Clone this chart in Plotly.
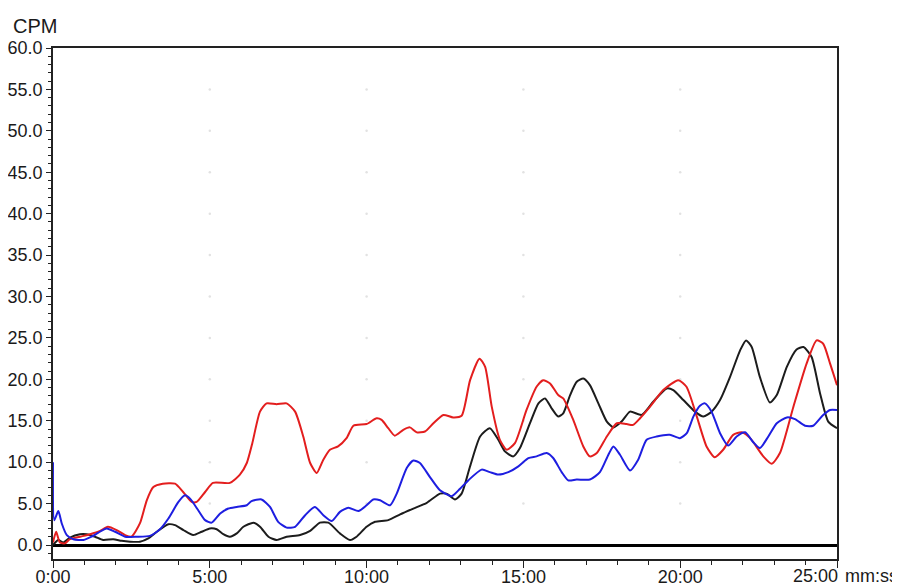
import plotly.graph_objects as go

# ---- data (time in minutes, values in CPM) ----
red_t = [0, 0.1, 0.22, 0.38, 0.54, 0.86, 1.18, 1.5, 1.75, 2.03, 2.3, 2.5, 2.77, 2.99, 3.2, 3.5, 3.89, 4.15, 4.42, 4.58,
         4.85, 5.1, 5.64, 5.96, 6.18, 6.35, 6.6, 6.81, 7.13, 7.45, 7.72, 7.98, 8.2, 8.41, 8.62, 8.83, 9.09, 9.36, 9.58, 10.0,
         10.32, 10.48, 10.69, 10.9, 11.17, 11.38, 11.6, 11.86, 12.13, 12.45, 12.76, 13.03, 13.3, 13.6, 13.78, 13.99, 14.25, 14.47, 14.73, 15.1,
         15.42, 15.63, 15.85, 16.11, 16.27, 16.59, 16.91, 17.12, 17.34, 17.66, 17.98, 18.29, 18.5, 18.72, 19.04, 19.46, 19.94, 20.2, 20.53, 20.84,
         21.1, 21.37, 21.69, 21.96, 22.23, 22.65, 22.92, 23.18, 23.61, 24.03, 24.35, 24.56, 24.78, 25.0]
red_v = [0.3, 1.6, 0.3, 0.2, 0.7, 1.0, 1.3, 1.7, 2.2, 1.8, 1.2, 1.0, 2.6, 5.4, 7.0, 7.4, 7.4, 6.4, 5.2, 5.2,
         6.4, 7.5, 7.5, 8.5, 9.9, 12.2, 16.1, 17.1, 17.0, 17.1, 16.1, 13.1, 9.9, 8.7, 10.3, 11.5, 11.9, 12.9, 14.4, 14.6,
         15.3, 15.1, 14.1, 13.2, 13.9, 14.2, 13.6, 13.7, 14.7, 15.7, 15.4, 15.6, 19.9, 22.5, 21.5, 16.7, 12.7, 11.5, 12.3, 16.3,
         19.1, 19.9, 19.5, 18.1, 17.7, 15.1, 11.9, 10.7, 11.1, 13.1, 14.7, 14.6, 14.5, 15.3, 16.7, 18.7, 19.9, 19.1, 15.5, 11.9,
         10.6, 11.5, 13.3, 13.6, 12.9, 10.7, 9.8, 11.1, 16.7, 21.9, 24.7, 24.3, 21.9, 19.3]

black_t = [0, 0.17, 0.33, 0.54, 0.86, 1.07, 1.34, 1.6, 1.92, 2.19, 2.46, 2.77, 3.04, 3.31, 3.68, 3.89, 4.16, 4.47, 4.74, 5.0,
           5.22, 5.43, 5.64, 5.86, 6.07, 6.39, 6.6, 6.87, 7.13, 7.45, 7.88, 8.2, 8.51, 8.78, 9.15, 9.47, 9.68, 10.0, 10.27, 10.69,
           11.07, 11.49, 11.92, 12.34, 12.55, 12.82, 13.03, 13.3, 13.62, 13.93, 14.2, 14.41, 14.68, 14.89, 15.21, 15.48, 15.69, 15.9, 16.11, 16.27,
           16.49, 16.7, 16.91, 17.12, 17.39, 17.66, 17.87, 18.13, 18.4, 18.77, 19.14, 19.57, 19.78, 20.1, 20.47, 20.74, 21.0, 21.27, 21.59, 21.91,
           22.1, 22.28, 22.54, 22.86, 23.08, 23.4, 23.71, 23.93, 24.19, 24.46, 24.72, 25.0]
black_v = [0.0, 0.6, 0.3, 0.9, 1.3, 1.3, 1.0, 0.6, 0.7, 0.5, 0.4, 0.4, 0.8, 1.6, 2.5, 2.4, 1.8, 1.2, 1.6, 2.0,
           1.9, 1.3, 1.0, 1.4, 2.2, 2.7, 2.2, 1.0, 0.6, 1.0, 1.2, 1.7, 2.7, 2.7, 1.4, 0.6, 1.0, 2.2, 2.8, 3.0,
           3.7, 4.4, 5.1, 6.2, 6.2, 5.5, 6.2, 9.5, 13.1, 14.1, 12.7, 11.3, 10.7, 11.7, 14.7, 17.1, 17.7, 16.5, 15.5, 15.9,
           18.1, 19.7, 20.1, 19.3, 17.1, 14.9, 14.2, 14.9, 16.1, 15.7, 17.3, 18.9, 18.7, 17.5, 16.1, 15.5, 16.1, 17.5, 20.3, 23.5,
           24.7, 23.9, 20.3, 17.2, 18.1, 21.5, 23.6, 23.9, 22.7, 18.3, 14.9, 14.1]

blue_t = [0, 0.04, 0.17, 0.28, 0.44, 0.65, 0.97, 1.23, 1.45, 1.71, 1.98, 2.3, 2.67, 3.09, 3.41, 3.68, 4.0, 4.21, 4.37, 4.63,
          4.85, 5.06, 5.33, 5.59, 5.86, 6.18, 6.33, 6.65, 6.92, 7.18, 7.45, 7.72, 8.04, 8.35, 8.62, 8.89, 9.15, 9.42, 9.74, 10.0,
          10.21, 10.43, 10.75, 10.96, 11.28, 11.49, 11.7, 12.02, 12.34, 12.71, 12.98, 13.24, 13.67, 13.93, 14.2, 14.52, 14.84, 15.16, 15.42, 15.74,
          15.95, 16.22, 16.43, 16.7, 17.12, 17.44, 17.71, 17.87, 18.08, 18.4, 18.66, 18.93, 19.25, 19.67, 19.99, 20.21, 20.42, 20.63, 20.79, 21.0,
          21.27, 21.53, 21.8, 22.07, 22.33, 22.54, 22.81, 23.08, 23.4, 23.66, 23.98, 24.24, 24.56, 24.78, 25.0]
blue_v = [10.0, 3.0, 4.1, 2.6, 1.2, 0.7, 0.6, 1.0, 1.5, 2.0, 1.6, 1.0, 1.0, 1.1, 1.9, 3.2, 5.2, 6.0, 5.6, 4.2,
          3.0, 2.7, 3.8, 4.4, 4.6, 4.8, 5.3, 5.5, 4.6, 2.8, 2.1, 2.2, 3.6, 4.6, 3.6, 2.9, 4.0, 4.5, 4.1, 4.8,
          5.5, 5.4, 4.8, 6.2, 9.3, 10.2, 9.9, 8.2, 6.6, 5.9, 6.8, 7.8, 9.1, 8.8, 8.5, 8.8, 9.5, 10.5, 10.7, 11.1,
          10.5, 8.8, 7.8, 7.9, 7.9, 8.8, 10.9, 11.9, 10.9, 9.0, 10.3, 12.7, 13.1, 13.3, 12.9, 13.5, 15.5, 16.8, 17.1, 16.1,
          13.5, 12.0, 13.1, 13.6, 12.4, 11.7, 13.1, 14.7, 15.4, 15.2, 14.4, 14.4, 15.7, 16.3, 16.3]

x_tick_vals = [0, 5, 10, 15, 20, 25]
x_tick_text = ["0:00", "5:00", "10:00", "15:00", "20:00", "25:00"]
y_tick_vals = [0, 5, 10, 15, 20, 25, 30, 35, 40, 45, 50, 55, 60]
y_tick_text = ["0.0", "5.0", "10.0", "15.0", "20.0", "25.0", "30.0", "35.0", "40.0", "45.0", "50.0", "55.0", "60.0"]
x_unit = "mm:ss"
y_unit = "CPM"

FONT = "Liberation Sans, Arial, Helvetica, sans-serif"
FS = 18

fig = go.Figure()

# faint grid dots at major intersections
gx, gy = [], []
for xv in x_tick_vals[1:-1]:
    for yv in y_tick_vals[1:-1]:
        gx.append(xv)
        gy.append(yv)
fig.add_trace(go.Scatter(x=gx, y=gy, mode="markers",
                         marker=dict(size=2.5, color="#e2e2e2"),
                         hoverinfo="skip", showlegend=False))

for t, v, c in [(black_t, black_v, "#1c1c1c"), (red_t, red_v, "#e31e1e"), (blue_t, blue_v, "#1e1ee0")]:
    fig.add_trace(go.Scatter(x=t, y=v, mode="lines",
                             line=dict(color=c, width=2, shape="spline", smoothing=0.6),
                             showlegend=False))

# page body has an 8px margin, so margins are offset to place the plot area at x 53..837, y 48..559
fig.update_layout(
    width=900, height=586,
    margin=dict(l=45, r=71, t=40, b=35),
    paper_bgcolor="white", plot_bgcolor="white",
    font=dict(family=FONT, size=FS, color="#1a1a1a"),
    showlegend=False,
)

# last x label is drawn as an annotation (right-aligned to the tick like the reference)
fig.update_xaxes(
    range=[0, 25], tickvals=x_tick_vals, ticktext=x_tick_text[:-1] + [""],
    ticks="outside", ticklen=7, tickwidth=1.3, tickcolor="#222",
    minor=dict(dtick=1, ticks="outside", ticklen=4, tickwidth=1.2, tickcolor="#222"),
    showline=True, linecolor="#222", linewidth=1.6, mirror=True,
    showgrid=False, zeroline=False, automargin=False,
    ticklabelstandoff=-6,
    tickfont=dict(size=FS),
)
fig.update_yaxes(
    range=[-1.69, 60], tickvals=y_tick_vals, ticktext=y_tick_text,
    ticks="outside", ticklen=5, tickwidth=1.3, tickcolor="#222",
    minor=dict(dtick=1, ticks="outside", ticklen=3, tickwidth=1, tickcolor="#222"),
    showline=True, linecolor="#222", linewidth=1.6, mirror=True,
    showgrid=False, automargin=False,
    zeroline=True, zerolinecolor="#000", zerolinewidth=3,
    tickfont=dict(size=FS),
)

fig.add_annotation(text=y_unit, xref="paper", yref="paper", x=-0.053, y=1.043,
                   xanchor="left", yanchor="middle", showarrow=False,
                   font=dict(size=20, family=FONT, color="#1a1a1a"))
fig.add_annotation(text=x_tick_text[-1], xref="paper", yref="paper", x=1, y=0,
                   xanchor="right", yanchor="top", xshift=3, yshift=-5, showarrow=False,
                   font=dict(size=FS, family=FONT, color="#1a1a1a"))
fig.add_annotation(text=x_unit, xref="paper", yref="paper", x=1, y=0,
                   xanchor="left", yanchor="top", xshift=6, yshift=-5, showarrow=False,
                   font=dict(size=FS, family=FONT, color="#1a1a1a"))

fig.write_html("out.html")
